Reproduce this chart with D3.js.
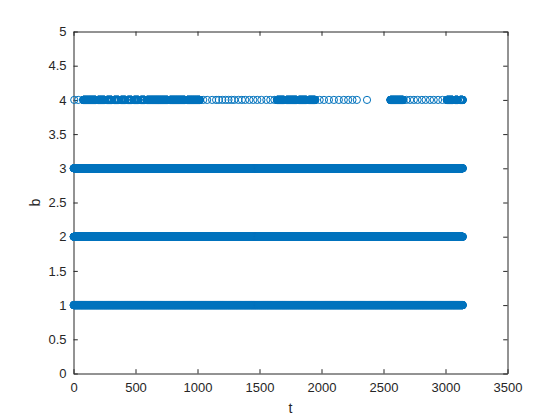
<!DOCTYPE html>
<html>
<head>
<meta charset="utf-8">
<script src="https://cdn.jsdelivr.net/npm/d3@7"></script>
<style>
  body { margin: 0; background: #fff; }
  svg { display: block; font-family: "Liberation Sans", Arial, sans-serif; }
</style>
</head>
<body>
<div id="chart"></div>
<script>
// values; samples are taken at integer t
var levels = [1, 2, 3, 4];
var xTicks = [0, 500, 1000, 1500, 2000, 2500, 3000, 3500];
var yTicks = [0, 0.5, 1, 1.5, 2, 2.5, 3, 3.5, 4, 4.5, 5];

// rows b = 1, 2, 3 are present at every sample
var fullRuns = [[1, 3140]];

// row b = 4: runs of consecutive samples plus isolated samples
var b4Runs = [[78, 180], [196, 252], [268, 310], [326, 365], [381, 420], [436, 470],
  [486, 525], [541, 575], [591, 760], [776, 900], [916, 1020],
  [1640, 1700], [1716, 1800], [1816, 1880], [1896, 1950],
  [2555, 2660], [3010, 3060], [3076, 3100], [3116, 3140]];
var b4Points = [6, 38, 1046, 1078, 1118, 1150, 1172, 1200, 1226, 1250, 1275, 1297,
  1330, 1358, 1385, 1418, 1450, 1482, 1515, 1555, 1587, 1620,
  1985, 2020, 2060, 2100, 2140, 2180, 2215, 2250, 2285, 2367,
  2685, 2715, 2745, 2775, 2810, 2840, 2875, 2905, 2940, 2975];

var width = 560, height = 420;
var blue = '#0072bd', ink = '#262626';

var svg = d3.select('#chart').append('svg')
  .attr('width', width)
  .attr('height', height);

var x = d3.scaleLinear().domain([0, 3500]).range([73.5, 507.5]);
var y = d3.scaleLinear().domain([0, 5]).range([373.5, 31.5]);

function runSamples(runs) {
  var out = [];
  runs.forEach(function(r) {
    for (var t = r[0]; t <= r[1]; t++) out.push(t);
  });
  return out;
}

var points = [];
levels.forEach(function(b) {
  var ts = b < 4 ? runSamples(fullRuns) : runSamples(b4Runs).concat(b4Points);
  ts.forEach(function(t) { points.push({t: t, b: b}); });
});

// axes, MATLAB style with inward ticks on all four sides
var tick = 4.3;
function styleAxis(g) {
  g.selectAll('path').attr('stroke', ink).attr('stroke-width', 1);
  g.selectAll('line').attr('stroke', ink).attr('stroke-width', 1);
  g.selectAll('text').attr('fill', ink).style('font-size', '13px');
}

var xAxisBottom = svg.append('g')
  .attr('transform', 'translate(0,' + y(0) + ')')
  .call(d3.axisBottom(x).tickValues(xTicks).tickFormat(d3.format('d'))
    .tickSizeInner(-tick).tickSizeOuter(0).tickPadding(9));
xAxisBottom.call(styleAxis);

var xAxisTop = svg.append('g')
  .attr('transform', 'translate(0,' + y(5) + ')')
  .call(d3.axisTop(x).tickValues(xTicks).tickSizeInner(-tick).tickSizeOuter(0).tickFormat(''));
xAxisTop.call(styleAxis);

var yAxisLeft = svg.append('g')
  .attr('transform', 'translate(' + x(0) + ',0)')
  .call(d3.axisLeft(y).tickValues(yTicks).tickFormat(d3.format('~g'))
    .tickSizeInner(-tick).tickSizeOuter(0).tickPadding(7));
yAxisLeft.call(styleAxis);

var yAxisRight = svg.append('g')
  .attr('transform', 'translate(' + x(3500) + ',0)')
  .call(d3.axisRight(y).tickValues(yTicks).tickSizeInner(-tick).tickSizeOuter(0).tickFormat(''));
yAxisRight.call(styleAxis);

// markers
svg.append('g')
  .selectAll('circle')
  .data(points)
  .enter().append('circle')
  .attr('cx', function(d) { return x(d.t); })
  .attr('cy', function(d) { return y(d.b); })
  .attr('r', 3.6)
  .attr('fill', 'none')
  .attr('stroke', blue)
  .attr('stroke-width', 1);

// axis labels
svg.append('text')
  .attr('x', (x(0) + x(3500)) / 2)
  .attr('y', 413)
  .attr('text-anchor', 'middle')
  .attr('fill', ink)
  .style('font-size', '14px')
  .text('t');

svg.append('text')
  .attr('transform', 'translate(40,' + (y(0) + y(5)) / 2 + ') rotate(-90)')
  .attr('text-anchor', 'middle')
  .attr('fill', ink)
  .style('font-size', '14px')
  .text('b');
</script>
</body>
</html>
